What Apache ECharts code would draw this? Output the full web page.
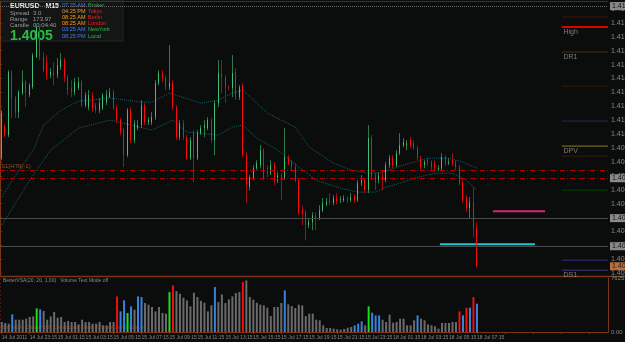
<!DOCTYPE html>
<html>
<head>
<meta charset="utf-8">
<title>EURUSD M15</title>
<script src="https://cdn.jsdelivr.net/npm/echarts@6/dist/echarts.min.js"></script>
<style>
  html, body { margin: 0; padding: 0; background: #0a0d0c; }
  #chart { width: 625px; height: 342px; }
</style>
</head>
<body>
<div id="chart"></div>
<script>
// 时间刻度：每 8 根 K 线一个
const timeLabels = ['14 Jul 2011', '14 Jul 23:15', '15 Jul 01:15', '15 Jul 03:15', '15 Jul 05:15', '15 Jul 07:15',
  '15 Jul 09:15', '15 Jul 11:15', '15 Jul 13:15', '15 Jul 15:15', '15 Jul 17:15', '15 Jul 19:15',
  '15 Jul 21:15', '15 Jul 23:15', '18 Jul 01:15', '18 Jul 03:15', '18 Jul 05:15', '18 Jul 07:15'];

const priceTicks = [1.4000, 1.4010, 1.4020, 1.4030, 1.4040, 1.4050, 1.4060, 1.4070, 1.4080, 1.4090,
  1.4100, 1.4110, 1.4120, 1.4130, 1.4140, 1.4150, 1.4160, 1.4170, 1.4180, 1.4190];

const opens = [1.40827, 1.41058, 1.40993, 1.41439, 1.41259, 1.41158, 1.41295, 1.41374, 1.41281, 1.41338,
  1.41554, 1.41770, 1.41554, 1.41518, 1.41424, 1.41446, 1.41424, 1.41482, 1.41532, 1.41410,
  1.41331, 1.41302, 1.41331, 1.41374, 1.41209, 1.41194, 1.41281, 1.41209, 1.41173, 1.41187,
  1.41230, 1.41266, 1.41302, 1.41187, 1.41101, 1.41029, 1.40849, 1.41173, 1.40957, 1.41043,
  1.41065, 1.41209, 1.41086, 1.41086, 1.41122, 1.41367, 1.41439, 1.41403, 1.41338, 1.41367,
  1.41194, 1.40978, 1.41079, 1.40978, 1.40827, 1.41007, 1.40827, 1.41007, 1.41043, 1.41043,
  1.41101, 1.40957, 1.41223, 1.41432, 1.41410, 1.41338, 1.41331, 1.41446, 1.41266, 1.41352,
  1.40849, 1.40619, 1.40683, 1.40755, 1.40777, 1.40885, 1.40755, 1.40719, 1.40777, 1.40669,
  1.40705, 1.40683, 1.40835, 1.40799, 1.40763, 1.40669, 1.40453, 1.40439, 1.40345, 1.40367,
  1.40417, 1.40396, 1.40453, 1.40496, 1.40525, 1.40504, 1.40540, 1.40525, 1.40525, 1.40540,
  1.40525, 1.40554, 1.40525, 1.40647, 1.40669, 1.40597, 1.40971, 1.40705, 1.40669, 1.40705,
  1.40669, 1.40777, 1.40827, 1.40777, 1.40863, 1.40921, 1.40921, 1.40957, 1.40935, 1.40899,
  1.40827, 1.40777, 1.40813, 1.40799, 1.40791, 1.40748, 1.40755, 1.40835, 1.40791, 1.40813,
  1.40799, 1.40763, 1.40655, 1.40547, 1.40468, 1.40511, 1.40324];

const closes = [1.41151, 1.40993, 1.41446, 1.41259, 1.41151, 1.41302, 1.41374, 1.41295, 1.41352, 1.41568,
  1.41770, 1.41554, 1.41460, 1.41424, 1.41446, 1.41417, 1.41496, 1.41532, 1.41410, 1.41317,
  1.41302, 1.41374, 1.41374, 1.41209, 1.41281, 1.41281, 1.41187, 1.41173, 1.41223, 1.41281,
  1.41281, 1.41302, 1.41187, 1.41101, 1.41014, 1.40849, 1.41173, 1.40957, 1.41079, 1.41065,
  1.41209, 1.41086, 1.41101, 1.41122, 1.41367, 1.41439, 1.41403, 1.41338, 1.41367, 1.41194,
  1.40978, 1.41079, 1.40978, 1.40827, 1.40957, 1.40827, 1.41007, 1.41043, 1.41065, 1.41101,
  1.40957, 1.41223, 1.41439, 1.41410, 1.41338, 1.41331, 1.41439, 1.41266, 1.41338, 1.40849,
  1.40633, 1.40691, 1.40755, 1.40791, 1.40885, 1.40683, 1.40719, 1.40777, 1.40669, 1.40705,
  1.40669, 1.40835, 1.40791, 1.40763, 1.40669, 1.40439, 1.40432, 1.40345, 1.40367, 1.40417,
  1.40396, 1.40453, 1.40504, 1.40511, 1.40511, 1.40540, 1.40518, 1.40532, 1.40540, 1.40525,
  1.40547, 1.40525, 1.40647, 1.40669, 1.40597, 1.40971, 1.40691, 1.40655, 1.40705, 1.40669,
  1.40777, 1.40827, 1.40777, 1.40863, 1.40921, 1.40942, 1.40935, 1.40921, 1.40899, 1.40827,
  1.40763, 1.40799, 1.40791, 1.40763, 1.40755, 1.40755, 1.40835, 1.40791, 1.40799, 1.40791,
  1.40763, 1.40647, 1.40525, 1.40468, 1.40511, 1.40324, 1.40050];

const highs = [1.41173, 1.41072, 1.41460, 1.41460, 1.41273, 1.41317, 1.41460, 1.41388, 1.41367, 1.41583,
  1.41791, 1.41784, 1.41590, 1.41568, 1.41475, 1.41518, 1.41547, 1.41583, 1.41547, 1.41424,
  1.41388, 1.41403, 1.41410, 1.41388, 1.41302, 1.41317, 1.41302, 1.41223, 1.41259, 1.41295,
  1.41317, 1.41331, 1.41317, 1.41209, 1.41115, 1.41043, 1.41187, 1.41194, 1.41101, 1.41101,
  1.41245, 1.41223, 1.41122, 1.41158, 1.41388, 1.41460, 1.41460, 1.41424, 1.41640, 1.41388,
  1.41209, 1.41101, 1.41101, 1.40993, 1.40978, 1.41029, 1.41029, 1.41065, 1.41101, 1.41122,
  1.41115, 1.41245, 1.41532, 1.41532, 1.41424, 1.41352, 1.41568, 1.41475, 1.41352, 1.41367,
  1.40870, 1.40705, 1.40777, 1.40813, 1.40921, 1.40899, 1.40777, 1.40813, 1.40799, 1.40727,
  1.40719, 1.41043, 1.40849, 1.40813, 1.40791, 1.40683, 1.40489, 1.40453, 1.40396, 1.40439,
  1.40439, 1.40489, 1.40540, 1.40540, 1.40576, 1.40561, 1.40576, 1.40554, 1.40561, 1.40554,
  1.40576, 1.40568, 1.40669, 1.40705, 1.40683, 1.41065, 1.40993, 1.40727, 1.40727, 1.40741,
  1.40799, 1.40849, 1.40849, 1.40885, 1.41007, 1.40971, 1.40957, 1.40978, 1.40957, 1.40914,
  1.40842, 1.40813, 1.40827, 1.40813, 1.40813, 1.40777, 1.40863, 1.40849, 1.40827, 1.40863,
  1.40813, 1.40777, 1.40669, 1.40561, 1.40547, 1.40619, 1.40367];

const lows = [1.40813, 1.40978, 1.40978, 1.41115, 1.41115, 1.41115, 1.41281, 1.41194, 1.41266, 1.41324,
  1.41547, 1.41532, 1.41446, 1.41388, 1.41403, 1.41352, 1.41403, 1.41460, 1.41374, 1.41281,
  1.41266, 1.41281, 1.41317, 1.41194, 1.41194, 1.41173, 1.41158, 1.41151, 1.41151, 1.41173,
  1.41209, 1.41259, 1.41173, 1.41079, 1.40993, 1.40763, 1.40835, 1.40935, 1.40935, 1.41029,
  1.41043, 1.41065, 1.41065, 1.41065, 1.41101, 1.41352, 1.41374, 1.41317, 1.41317, 1.41173,
  1.40957, 1.40957, 1.40957, 1.40813, 1.40813, 1.40655, 1.40813, 1.40993, 1.40978, 1.41029,
  1.40935, 1.40849, 1.41194, 1.41295, 1.41223, 1.41317, 1.41266, 1.41245, 1.41245, 1.40835,
  1.40504, 1.40597, 1.40669, 1.40741, 1.40755, 1.40669, 1.40691, 1.40705, 1.40633, 1.40647,
  1.40525, 1.40669, 1.40777, 1.40741, 1.40655, 1.40417, 1.40345, 1.40237, 1.40324, 1.40309,
  1.40309, 1.40381, 1.40439, 1.40482, 1.40489, 1.40489, 1.40496, 1.40504, 1.40511, 1.40504,
  1.40511, 1.40504, 1.40511, 1.40626, 1.40576, 1.40576, 1.40669, 1.40597, 1.40647, 1.40597,
  1.40655, 1.40755, 1.40755, 1.40763, 1.40849, 1.40906, 1.40885, 1.40899, 1.40885, 1.40813,
  1.40741, 1.40755, 1.40770, 1.40741, 1.40727, 1.40734, 1.40741, 1.40770, 1.40777, 1.40770,
  1.40741, 1.40633, 1.40504, 1.40439, 1.40396, 1.40259, 1.40040];

const volumes = [1410, 1269, 1175, 2491, 1739, 1739, 1739, 1880, 2115, 2209,
  3337, 3196, 2961, 1739, 2209, 2820, 2021, 2115, 1410, 1551,
  1410, 1410, 1081, 1739, 1410, 1410, 1175, 1175, 1410, 940,
  940, 1410, 1410, 5029, 2914, 4465, 2679, 3619, 3149, 5029,
  4935, 4089, 3854, 3525, 2914, 3525, 2679, 2585, 5640, 6580,
  5781, 5405, 4841, 4465, 3619, 5546, 4935, 4400, 4136, 2914,
  3760, 6345, 4230, 5311, 4089, 4606, 5029, 5499, 5640, 7050,
  7285, 4935, 4559, 4136, 3854, 3760, 3431, 2256, 3525, 3525,
  4089, 5875, 3901, 3666, 3384, 3854, 3760, 2256, 2585, 2585,
  1739, 1645, 940, 564, 564, 470, 376, 329, 423, 611,
  705, 940, 1175, 1504, 940, 3619, 2726, 2350, 2350, 1739,
  1410, 2444, 1316, 1410, 1880, 1880, 940, 940, 1645, 2350,
  1880, 1645, 1081, 940, 799, 470, 1269, 1269, 1269, 1410,
  1410, 2914, 2350, 3431, 3431, 4935, 3995];

// 成交量柱颜色分类
const blueBars = [3, 11, 34, 35, 37, 39, 40, 61, 81, 101, 102, 103, 106, 107, 108, 119, 132, 134, 136];
const greenBars = [10, 36, 48, 105];
const redBars = [33, 49, 69, 131, 133, 135];

// 两条均线（按 K 线序号读取的点）
const maFastPts = [[0, 1.40547], [3, 1.40669], [9, 1.40885], [12, 1.41065], [17, 1.41173], [22, 1.41237],
  [31, 1.41259], [40, 1.41230], [43, 1.41230], [48, 1.41295], [57, 1.41223], [62, 1.41245], [66, 1.41295],
  [69, 1.41317], [76, 1.41151], [84, 1.41050], [88, 1.40906], [95, 1.40791], [100, 1.40741], [105, 1.40719],
  [108, 1.40719], [114, 1.40770], [122, 1.40827], [128, 1.40827], [132, 1.40799], [136, 1.40755]];
const maSlowPts = [[0, 1.40345], [8, 1.40669], [14, 1.40885], [22, 1.41043], [31, 1.41101], [43, 1.41029],
  [49, 1.41101], [53, 1.41014], [57, 1.41007], [62, 1.40993], [66, 1.41050], [69, 1.41065], [73, 1.40971],
  [79, 1.40885], [85, 1.40763], [90, 1.40669], [97, 1.40611], [102, 1.40583], [107, 1.40583], [110, 1.40619],
  [114, 1.40647], [118, 1.40683], [124, 1.40719], [129, 1.40719], [133, 1.40669], [136, 1.40597]];

// 右侧短水平线（枢轴位）
const pivotPrices = [1.41842, 1.41770, 1.41590, 1.41345, 1.41094, 1.40914, 1.40842, 1.40597, 1.40094, 1.40022];
const pivotNames = ['', 'High', 'DR1', '', '', 'DPV', '', '', '', 'DS1'];
const pivotFrom = 160.8;

// 整幅水平线
const levelPrices = [1.41921, 1.40741, 1.40683, 1.40396, 1.40194];
const bidPrice = 1.40050;

// 手画线段：[起点, 终点, 价格]
const magentaSeg = [141.1, 156.0, 1.40446];
const cyanSeg = [125.9, 153.1, 1.40209];

const volMax = 7625;

const slotCount = 174;
const categories = Array.from({ length: slotCount }, (_, i) => String(i));

const candleData = opens.map((o, i) => [o, closes[i], lows[i], highs[i]]);
const bodyData = opens.map((o, i) => [o, closes[i], Math.min(o, closes[i]), Math.max(o, closes[i])]);

const volColor = (i) => {
  if (blueBars.includes(i)) return '#3a82dc';
  if (greenBars.includes(i)) return '#18e018';
  if (redBars.includes(i)) return '#f01010';
  return '#6a6a6a';
};
const volData = volumes.map((v, i) => ({ value: v, itemStyle: { color: volColor(i) } }));

const pivotStyles = [
  { color: '#4a140a', width: 1, type: 'solid' },
  { color: '#e00000', width: 2, type: 'solid' },
  { color: '#4d2a12', width: 1, type: 'solid' },
  { color: '#3a180a', width: 1, type: 'solid' },
  { color: '#26266e', width: 1, type: 'solid' },
  { color: '#85851a', width: 1, type: 'solid' },
  { color: '#3a1a0a', width: 1, type: 'solid' },
  { color: '#1a5e1a', width: 1, type: 'dotted' },
  { color: '#32327a', width: 1, type: 'solid' },
  { color: '#443386', width: 1, type: 'solid' }
];

const boxLabel = (bg, fg) => ({
  show: true,
  position: 'end',
  distance: 2,
  formatter: (p) => Number(p.value).toFixed(5),
  backgroundColor: bg,
  color: fg,
  fontSize: 7,
  fontFamily: 'Liberation Sans',
  padding: [1, 3, 0, 2]
});

const pivotSeries = pivotPrices.map((p, i) => ({
  type: 'line',
  xAxisIndex: 2,
  yAxisIndex: 0,
  data: [[pivotFrom, p], [slotCount, p]],
  symbol: 'none',
  silent: true,
  lineStyle: pivotStyles[i],
  z: 1
}));

const segSeries = [[magentaSeg, '#e0207a'], [cyanSeg, '#22c4d4']].map(([s, c]) => ({
  type: 'line',
  xAxisIndex: 2,
  yAxisIndex: 0,
  data: [[s[0], s[2]], [s[1], s[2]]],
  symbol: 'none',
  silent: true,
  lineStyle: { color: c, width: 2 },
  z: 3
}));

const maSeries = [maFastPts, maSlowPts].map((pts) => ({
  type: 'line',
  xAxisIndex: 2,
  yAxisIndex: 0,
  data: pts.map(([i, v]) => [i + 0.5, v]),
  symbol: 'none',
  silent: true,
  lineStyle: { color: '#12606a', width: 1, type: 'dotted' },
  z: 1
}));

const pivotTextSeries = {
  type: 'scatter',
  xAxisIndex: 2,
  yAxisIndex: 0,
  symbolSize: 1,
  itemStyle: { color: 'rgba(0,0,0,0)' },
  silent: true,
  data: pivotPrices.map((p, i) => [pivotFrom + 0.6, p, pivotNames[i]]).filter((d) => d[2]),
  label: {
    show: true,
    position: [0, 2],
    align: 'left',
    verticalAlign: 'top',
    formatter: (p) => p.data[2],
    color: '#9a9a9a',
    fontSize: 7,
    fontFamily: 'Liberation Sans'
  }
};

const txt = (x, y, text, fill, font) => ({
  type: 'text', x, y, silent: true,
  style: { text, fill, font: font || '5.5px "Liberation Sans"', textVerticalAlign: 'middle' }
});

const panelTimes = [['07:25 AM', '#3a7cff', 'Broker', '#22bb44'], ['04:25 PM', '#ff9a1a', 'Tokyo', '#ee2020'],
  ['08:25 AM', '#ff9a1a', 'Berlin', '#ee2020'], ['08:25 AM', '#ff9a1a', 'London', '#ee2020'],
  ['03:25 AM', '#3a7cff', 'NewYork', '#22bb44'], ['08:25 PM', '#3a7cff', 'Local', '#22bb44']];

const graphics = [
  { type: 'rect', shape: { x: 0, y: 0, width: 123, height: 41 }, style: { fill: '#141616', stroke: '#222' }, silent: true, z: 0 },
  txt(10, 6, 'EURUSD   M15', '#e8e8e8', 'bold 7px "Liberation Sans"'),
  txt(10, 13, 'Spread', '#9a9a9a', '6px "Liberation Sans"'), txt(33, 13, '3.0', '#9a9a9a', '6px "Liberation Sans"'),
  txt(10, 19, 'Range', '#9a9a9a', '6px "Liberation Sans"'), txt(33, 19, '173.97', '#9a9a9a', '6px "Liberation Sans"'),
  txt(10, 25, 'Candle', '#9a9a9a', '6px "Liberation Sans"'), txt(33, 25, '00:04:40', '#9a9a9a', '6px "Liberation Sans"'),
  txt(10, 36, '1.4005', '#22c040', 'bold 14px "Liberation Sans"'),
  ...panelTimes.flatMap(([t, tc, n, nc], k) => [txt(62, 5 + k * 6.2, t, tc), txt(88, 5 + k * 6.2, n, nc)]),
  // 窗口分隔线
  { type: 'line', shape: { x1: 0, y1: 1.5, x2: 608, y2: 1.5 }, style: { stroke: '#5a2810', lineWidth: 1 }, silent: true },
  { type: 'line', shape: { x1: 0, y1: 276.5, x2: 625, y2: 276.5 }, style: { stroke: '#7a3515', lineWidth: 1.5 }, silent: true },
  { type: 'line', shape: { x1: 0.5, y1: 2, x2: 0.5, y2: 333 }, style: { stroke: '#4a1410', lineWidth: 1, lineDash: [2, 2] }, silent: true },
  txt(3, 281, 'BetterVSA(20, 20, 1.00)   Volume Text Mode off', '#8a8a8a', '5px "Liberation Sans"'),
  txt(3, 328, 'Bar VSA: ClimaxHigh  ClimaxLow  Churn  ClimaxChurn  LowVol', '#7a4022', '5px "Liberation Sans"')
];

const chart = echarts.init(document.getElementById('chart'));

chart.setOption({
  animation: false,
  backgroundColor: '#0a0d0c',
  grid: [
    { left: 0, width: 608, top: 2, height: 274, outerBoundsMode: 'none', containLabel: false },
    { left: 0, width: 608, top: 278, height: 54, outerBoundsMode: 'none', containLabel: false }
  ],
  xAxis: [
    { type: 'category', gridIndex: 0, data: categories, show: false, boundaryGap: true },
    {
      type: 'category', gridIndex: 1, data: categories, boundaryGap: true,
      axisLine: { lineStyle: { color: '#7a3515', width: 1 } },
      axisTick: { show: true, interval: 7, alignWithLabel: true, length: 2, lineStyle: { color: '#7a3515' } },
      axisLabel: {
        interval: 7, align: 'left', margin: 3, fontSize: 5, color: '#8a8a8a', fontFamily: 'Liberation Sans',
        hideOverlap: false,
        formatter: (v, i) => timeLabels[i / 8] || ''
      },
      splitLine: { show: false }
    },
    { type: 'value', gridIndex: 0, min: 0, max: slotCount, show: false }
  ],
  yAxis: [
    {
      type: 'value', gridIndex: 0, position: 'right', min: 1.3998, max: 1.4195,
      axisLine: { show: true, lineStyle: { color: '#7a3515' } },
      axisTick: { show: true, length: 2, customValues: priceTicks, lineStyle: { color: '#7a3515' } },
      axisLabel: {
        customValues: priceTicks, margin: 3, fontSize: 7, color: '#8a8a8a', fontFamily: 'Liberation Sans',
        formatter: (v) => v.toFixed(5)
      },
      splitLine: { show: false }
    },
    {
      type: 'value', gridIndex: 1, position: 'right', min: 0, max: volMax,
      axisLine: { show: true, lineStyle: { color: '#7a3515' } },
      axisTick: { show: false },
      axisLabel: {
        customValues: [0, volMax], margin: 3, fontSize: 6, color: '#8a8a8a', fontFamily: 'Liberation Sans',
        formatter: (v) => v.toFixed(2)
      },
      splitLine: { show: false }
    }
  ],
  graphic: graphics,
  series: [
    ...pivotSeries,
    ...maSeries,
    {
      // 影线
      type: 'candlestick', xAxisIndex: 0, yAxisIndex: 0, data: candleData, barWidth: 1, silent: true,
      itemStyle: { color: '#2d7a4a', color0: '#a01010', borderColor: '#2d7a4a', borderColor0: '#a01010', borderWidth: 1 },
      z: 2
    },
    {
      // 实体
      type: 'candlestick', xAxisIndex: 0, yAxisIndex: 0, data: bodyData, barWidth: 1, silent: true,
      itemStyle: { color: '#3fbf7a', color0: '#ff0a0a', borderColor: '#3fbf7a', borderColor0: '#ff0a0a', borderWidth: 1 },
      z: 3,
      markLine: {
        silent: true, symbol: 'none', animation: false, precision: 5,
        data: [
          { yAxis: levelPrices[0], lineStyle: { color: '#6a6a6a', type: 'dotted', width: 1 }, label: boxLabel('#8a8a8a', '#111') },
          {
            yAxis: levelPrices[1], lineStyle: { color: '#b00000', type: [5, 2, 1, 2], width: 1 },
            label: { show: true, position: 'insideStartTop', distance: 1, formatter: 'S1(H70(-1)', color: '#a5502a', fontSize: 6, fontFamily: 'Liberation Sans' }
          },
          { yAxis: levelPrices[2], lineStyle: { color: '#b00000', type: [5, 2, 1, 2], width: 1 }, label: boxLabel('#8a8a8a', '#111') },
          { yAxis: levelPrices[3], lineStyle: { color: '#4a4a4a', type: 'solid', width: 1 }, label: boxLabel('#8a8a8a', '#111') },
          { yAxis: levelPrices[4], lineStyle: { color: '#4a4a4a', type: 'solid', width: 1 }, label: boxLabel('#8a8a8a', '#111') },
          { yAxis: bidPrice, lineStyle: { width: 1, color: 'rgba(0,0,0,0)' }, label: boxLabel('#b8703e', '#1a1a1a') }
        ]
      }
    },
    ...segSeries,
    pivotTextSeries,
    {
      type: 'bar', xAxisIndex: 1, yAxisIndex: 1, data: volData, barWidth: 2, silent: true
    }
  ]
});
</script>
</body>
</html>
